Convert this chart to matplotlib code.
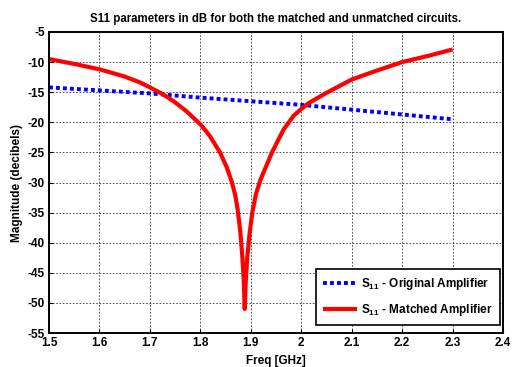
import matplotlib
matplotlib.use("Agg")
import matplotlib.pyplot as plt
import numpy as np

plt.rcParams['font.family'] = ['Liberation Sans', 'DejaVu Sans']
plt.rcParams['font.weight'] = 'bold'
plt.rcParams['axes.unicode_minus'] = False
plt.rcParams['mathtext.fontset'] = 'custom'
plt.rcParams['mathtext.rm'] = 'Liberation Sans:bold'
plt.rcParams['mathtext.bf'] = 'Liberation Sans:bold'
plt.rcParams['mathtext.it'] = 'Liberation Sans:bold'

# Original amplifier S11 (dB)
freq_orig = [1.5, 1.6, 1.7, 1.8, 1.9, 2.0, 2.1, 2.2, 2.3]
s11_orig = [-14.2, -14.7, -15.2, -15.9, -16.5, -17.1, -17.9, -18.7, -19.5]

# Matched amplifier S11 (dB)
freq_match = [1.50, 1.55, 1.60, 1.65, 1.681, 1.70, 1.725, 1.747, 1.773, 1.802,
              1.819, 1.839, 1.852, 1.862, 1.869, 1.874, 1.879, 1.883, 1.886,
              1.888, 1.890, 1.893, 1.897, 1.903, 1.910, 1.919, 1.929, 1.942,
              1.965, 1.985, 2.000, 2.015, 2.05, 2.10, 2.15, 2.20, 2.25, 2.30]
s11_match = [-9.5, -10.3, -11.2, -12.4, -13.4, -14.2, -15.3, -16.5, -18.2, -20.5,
             -22.3, -25.0, -27.4, -29.8, -32.0, -34.5, -38.0, -42.0, -46.0,
             -51.0, -46.5, -42.5, -39.0, -35.0, -32.0, -29.6, -27.6, -25.0,
             -21.2, -18.9, -17.8, -16.8, -15.1, -12.9, -11.4, -10.0, -9.0, -7.9]

xticks = [1.5, 1.6, 1.7, 1.8, 1.9, 2.0, 2.1, 2.2, 2.3, 2.4]
xticklabels = ['1.5', '1.6', '1.7', '1.8', '1.9', '2', '2.1', '2.2', '2.3', '2.4']
yticks = [-55, -50, -45, -40, -35, -30, -25, -20, -15, -10, -5]

fig = plt.figure(figsize=(5.15, 3.67), dpi=100)
ax = fig.add_axes([49/515, 1 - 333/367, (503-49)/515, (333-32)/367])

ax.plot(freq_orig, s11_orig, color='#0000ff', linewidth=2.8,
        linestyle=(0, (1.0, 0.8)), label=r'$\mathbf{S_{11}}$ - Original Amplifier')
ax.plot(freq_match, s11_match, color='#ff0000', linewidth=3.0,
        solid_joinstyle='round', solid_capstyle='butt',
        label=r'$\mathbf{S_{11}}$ - Matched Amplifier')

ax.set_xlim(1.5, 2.4)
ax.set_ylim(-55, -5)
ax.set_xticks(xticks)
ax.set_xticklabels(xticklabels)
ax.set_yticks(yticks)
ax.tick_params(direction='in', length=3, labelsize=8.5, width=0.8, pad=3)
for lab in ax.get_xticklabels() + ax.get_yticklabels():
    lab.set_fontweight('bold')
ax.grid(True, color='black', linestyle=(0, (2, 2)), linewidth=0.6, alpha=0.8)
for s in ax.spines.values():
    s.set_linewidth(1.4)
    s.set_color('black')

ax.set_title('S11 parameters in dB for both the matched and unmatched circuits.',
             fontsize=8.3, fontweight='bold', pad=7)
ax.set_xlabel('Freq [GHz]', fontsize=8.5, fontweight='bold', labelpad=4)
ax.set_ylabel('Magnitude (decibels)', fontsize=8.5, fontweight='bold', labelpad=3)

leg = ax.legend(loc='lower right', fontsize=8.5, frameon=True, fancybox=False,
                edgecolor='black', framealpha=1, handlelength=2.9,
                handletextpad=0.35, borderpad=0.6, labelspacing=0.85,
                borderaxespad=0, bbox_to_anchor=(0.9934, 0.027))
leg.get_frame().set_linewidth(1.2)
for t in leg.get_texts():
    t.set_fontweight('bold')

fig.savefig('out.png', dpi=100, facecolor='white')
